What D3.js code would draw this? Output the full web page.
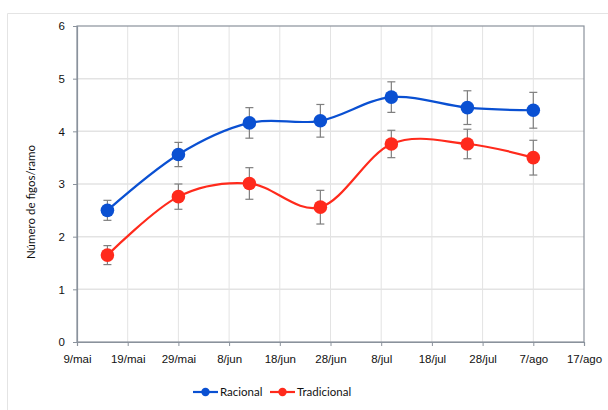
<!DOCTYPE html>
<html>
<head>
<meta charset="utf-8">
<script src="https://cdn.jsdelivr.net/npm/d3@7"></script>
<style>
  body { margin: 0; background: #fff; }
  svg { font-family: Lato, "Open Sans", sans-serif; }
</style>
</head>
<body>
<div id="chart"></div>
<script>
// Data
const dates = ["2013-05-15", "2013-05-29", "2013-06-12", "2013-06-26", "2013-07-10", "2013-07-25", "2013-08-07"];
const racional = [2.5, 3.56, 4.16, 4.2, 4.65, 4.45, 4.4];
const racionalErr = [0.19, 0.23, 0.29, 0.31, 0.29, 0.32, 0.34];
const tradicional = [1.65, 2.76, 3.01, 2.56, 3.76, 3.76, 3.5];
const tradicionalErr = [0.18, 0.24, 0.3, 0.32, 0.26, 0.28, 0.33];
const xTicks = ["2013-05-09", "2013-05-19", "2013-05-29", "2013-06-08", "2013-06-18", "2013-06-28", "2013-07-08", "2013-07-18", "2013-07-28", "2013-08-07", "2013-08-17"];
const xTickLabels = ["9/mai", "19/mai", "29/mai", "8/jun", "18/jun", "28/jun", "8/jul", "18/jul", "28/jul", "7/ago", "17/ago"];
const yTicks = [0, 1, 2, 3, 4, 5, 6];
const seriesNames = ["Racional", "Tradicional"];
const seriesColors = ["#0a50d2", "#ff2a1c"];

const parse = d3.timeParse("%Y-%m-%d");

const W = 608, H = 410;
const margin = { top: 26, right: 24, bottom: 68, left: 77 },
    width = W - margin.left - margin.right,
    height = H - margin.top - margin.bottom;

const root = d3.select("#chart").append("svg")
    .attr("width", W)
    .attr("height", H);

// outer chart frame (light)
root.append("path")
    .attr("d", `M7.5,${H} V13.5 H${W}`)
    .attr("fill", "none")
    .attr("stroke", "#e4e4e4");

const svg = root.append("g")
    .attr("transform", `translate(${margin.left},${margin.top})`);

const xScale = d3.scaleTime()
    .domain([parse(xTicks[0]), parse(xTicks[xTicks.length - 1])])
    .range([0, width]);
const yScale = d3.scaleLinear().domain([0, 6]).range([height, 0]);

// gridlines
svg.append("g").selectAll("line")
    .data(xTicks.slice(1, -1))
    .enter().append("line")
    .attr("x1", d => xScale(parse(d))).attr("x2", d => xScale(parse(d)))
    .attr("y1", 0).attr("y2", height)
    .attr("stroke", "#e3e3e3").attr("stroke-width", 1);
svg.append("g").selectAll("line")
    .data(yTicks.slice(1, -1))
    .enter().append("line")
    .attr("x1", 0).attr("x2", width)
    .attr("y1", d => yScale(d)).attr("y2", d => yScale(d))
    .attr("stroke", "#e3e3e3").attr("stroke-width", 1.5);

// plot frame
svg.append("rect")
    .attr("x", 0).attr("y", 0)
    .attr("width", width).attr("height", height)
    .attr("fill", "none")
    .attr("stroke", "#8a929c").attr("stroke-width", 1.2);

// axes
const xAxis = d3.axisBottom(xScale)
    .tickValues(xTicks.map(parse))
    .tickSize(4)
    .tickFormat((d, i) => xTickLabels[i]);
const yAxis = d3.axisLeft(yScale)
    .tickValues(yTicks)
    .tickSize(4)
    .tickPadding(8)
    .tickFormat(d3.format("d"));

const xAxisGroup = svg.append("g")
    .attr("transform", `translate(0, ${height})`)
    .call(xAxis);
const yAxisGroup = svg.append("g").call(yAxis);

[xAxisGroup, yAxisGroup].forEach(g => {
    g.select(".domain").attr("stroke", "#8a929c").attr("stroke-width", 1.2);
    g.selectAll(".tick line").attr("stroke", "#8a929c");
    g.selectAll(".tick text")
        .attr("font-size", 11.5)
        .attr("fill", "#111");
});
xAxisGroup.selectAll(".tick text").attr("dy", "1.2em");

// y-axis label
svg.append("text")
    .attr("text-anchor", "middle")
    .attr("transform", `translate(-42, ${176}) rotate(-90)`)
    .attr("font-size", 11.5)
    .attr("fill", "#111")
    .text("Número de figos/ramo");

// series
const series = [
    { name: seriesNames[0], values: racional, err: racionalErr, color: seriesColors[0] },
    { name: seriesNames[1], values: tradicional, err: tradicionalErr, color: seriesColors[1] }
];

const line = d3.line()
    .x((d, i) => xScale(parse(dates[i])))
    .y(d => yScale(d))
    .curve(d3.curveCardinal.tension(0));

series.forEach(s => {
    const g = svg.append("g");
    // error bars
    s.values.forEach((v, i) => {
        const x = xScale(parse(dates[i]));
        const y0 = yScale(v - s.err[i]), y1 = yScale(v + s.err[i]);
        g.append("line").attr("x1", x).attr("x2", x).attr("y1", y0).attr("y2", y1)
            .attr("stroke", "#7f7f7f").attr("stroke-width", 1.2);
        [y0, y1].forEach(yy => {
            g.append("line").attr("x1", x - 4).attr("x2", x + 4).attr("y1", yy).attr("y2", yy)
                .attr("stroke", "#7f7f7f").attr("stroke-width", 1.2);
        });
    });
    g.append("path")
        .datum(s.values)
        .attr("fill", "none")
        .attr("stroke", s.color)
        .attr("stroke-width", 2.2)
        .attr("d", line);
    g.selectAll("circle")
        .data(s.values)
        .enter().append("circle")
        .attr("cx", (d, i) => xScale(parse(dates[i])))
        .attr("cy", d => yScale(d))
        .attr("r", 6.8)
        .attr("fill", s.color);
});

// legend
const legendX = [193, 270];
const legend = root.append("g");
series.forEach((s, i) => {
    const lx = legendX[i], ly = 392;
    legend.append("line")
        .attr("x1", lx).attr("x2", lx + 25).attr("y1", ly).attr("y2", ly)
        .attr("stroke", s.color).attr("stroke-width", 2.2);
    legend.append("circle")
        .attr("cx", lx + 12.5).attr("cy", ly).attr("r", 4.2)
        .attr("fill", s.color);
    legend.append("text")
        .attr("x", lx + 27).attr("y", ly).attr("dy", "0.35em")
        .attr("font-size", 11.5)
        .attr("fill", "#111")
        .text(s.name);
});
</script>
</body>
</html>
